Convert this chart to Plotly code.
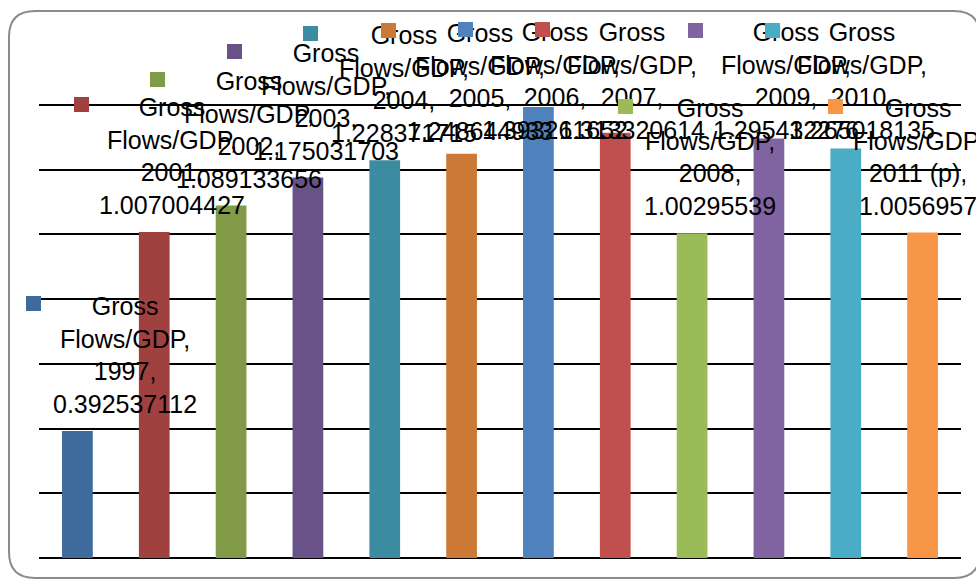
import plotly.graph_objects as go

# ---- data ----
years = ["1997", "2001", "2002", "2003", "2004", "2005",
         "2006", "2007", "2008", "2009", "2010", "2011 (p)"]
gross_flows_gdp = [0.392537112, 1.007004427, 1.089133656, 1.175031703,
                   1.228371715, 1.248644933, 1.393261652, 1.313320614,
                   1.00295539, 1.295432276, 1.265018135, 1.0056957]
series_name = "Gross Flows/GDP"

# ---- styles ----
bar_colors = ["#3F6A9C", "#A0403F", "#809A47", "#685287", "#3B8CA1", "#CB7935",
              "#4F81BD", "#C0504D", "#9BBB59", "#8064A2", "#4BACC6", "#F79646"]
# label layout (pixel offsets from bar top-centre)
label_dx = [48, 18, 18, 18, 19, 18, 17, 17, 18, 17, 16, -5]
label_dy = [125, 125, 124, 124, 125, 121, 75, 101, 125, 106, 116, 124]  # first-line centre above bar top
key_dx = [-44, -73, -74, -73, -74, -73, -73, -73, -67, -73, -73, -87]
FONT = "Liberation Sans"
FS = 25
LINE = 1.3 * FS

W, H = 976, 580
ML, MR, MT, MB = 39, 15, 40, 22

idx = list(range(len(years)))

fig = go.Figure()
fig.add_trace(go.Bar(
    x=idx, y=gross_flows_gdp, name=series_name,
    marker=dict(color=bar_colors, line=dict(width=0)),
    width=0.4, showlegend=False, hoverinfo="skip",
))

annotations = []
shapes = []
for i, (yr, v) in enumerate(zip(years, gross_flows_gdp)):
    txt = f"Gross<br>Flows/GDP,<br>{yr},<br>{v}"
    annotations.append(dict(
        x=i, y=v, xref="x", yref="y", text=txt, showarrow=False,
        xanchor="center", yanchor="middle", align="center",
        xshift=label_dx[i], yshift=label_dy[i] - 1.5 * LINE,
        font=dict(family=FONT, size=FS, color="#000000"),
    ))
    # legend key square (annotation box so it is not clipped by the plot area)
    annotations.append(dict(
        x=i, y=v, xref="x", yref="y", text=" ", showarrow=False,
        xanchor="center", yanchor="middle",
        xshift=key_dx[i], yshift=label_dy[i] + 2,
        width=15, height=15, borderpad=0, borderwidth=0,
        bgcolor=bar_colors[i], font=dict(size=6),
    ))

# rounded chart border (pixel -> paper)
pw = W - ML - MR
ph = H - MT - MB
def px(X):
    return (X - ML) / pw
def py(Y):
    return (H - MB - Y) / ph

L, T, R, B, r = 9, 11, 980, 578, 26
path = (f"M {px(L+r)},{py(T)} L {px(R-r)},{py(T)} "
        f"Q {px(R)},{py(T)} {px(R)},{py(T+r)} L {px(R)},{py(B-r)} "
        f"Q {px(R)},{py(B)} {px(R-r)},{py(B)} L {px(L+r)},{py(B)} "
        f"Q {px(L)},{py(B)} {px(L)},{py(B-r)} L {px(L)},{py(T+r)} "
        f"Q {px(L)},{py(T)} {px(L+r)},{py(T)} Z")
shapes.append(dict(type="path", xref="paper", yref="paper", path=path,
                   line=dict(color="#8C8C8C", width=2), layer="below"))

fig.update_layout(
    width=W, height=H,
    margin=dict(l=ML, r=MR, t=MT, b=MB, pad=0),
    paper_bgcolor="#FFFFFF", plot_bgcolor="#FFFFFF",
    font=dict(family=FONT, size=FS, color="#000000"),
    bargap=0.6,
    xaxis=dict(range=[-0.5, len(years) - 0.5], showgrid=False, zeroline=False,
               showticklabels=False, ticks="", showline=False,
               tickvals=idx, ticktext=years, fixedrange=True),
    yaxis=dict(range=[0, 1.6], dtick=0.2, showgrid=True, gridcolor="#000000",
               gridwidth=1.5, zeroline=True, zerolinecolor="#000000",
               zerolinewidth=1.5, showticklabels=False, ticks="", showline=False,
               fixedrange=True),
    annotations=annotations,
    shapes=shapes,
)

fig.write_html("out.html")
